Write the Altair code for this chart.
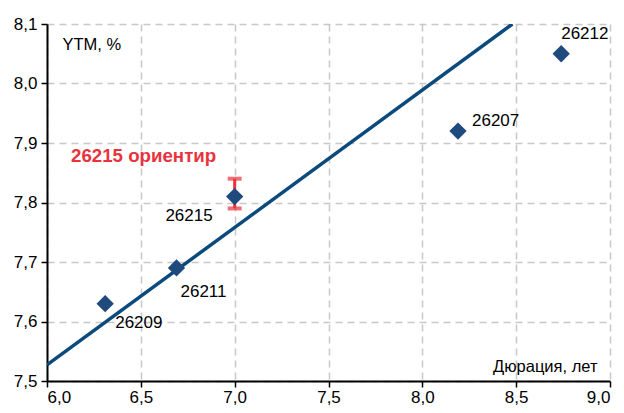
import altair as alt
import pandas as pd

# Data
bonds = ["26209", "26211", "26215", "26207", "26212"]
duration = [6.31, 6.69, 7.00, 8.19, 8.74]
ytm = [7.63, 7.69, 7.81, 7.92, 8.05]

fit_x = [6.0, 8.48]
fit_y = [7.527, 8.10]

guide_bond = "26215"
guide_x = [7.0]
guide_lo = [7.79]
guide_hi = [7.84]

x_ticks = [6.0, 6.5, 7.0, 7.5, 8.0, 8.5, 9.0]
y_ticks = [7.5, 7.6, 7.7, 7.8, 7.9, 8.0, 8.1]

FONT = "Liberation Sans"
BLUE = "#1f4a7e"
LINE = "#0b4a7c"
RED = "#e8333d"

pts = pd.DataFrame({"bond": bonds, "x": duration, "y": ytm})
fit = pd.DataFrame({"x": fit_x, "y": fit_y})
guide = pd.DataFrame({"x": guide_x, "lo": guide_lo, "hi": guide_hi})

lbl_expr = "replace(format(datum.value, '.1f'), '.', ',')"

xs = alt.Scale(domain=[6.0, 9.0], nice=False, zero=False)
ys = alt.Scale(domain=[7.5, 8.1], nice=False, zero=False)

common = dict(
    grid=True, gridDash=[7, 5], gridColor="#c8c8c8", gridWidth=1.5,
    domainColor="black", domainWidth=2, tickColor="black", tickSize=6, tickWidth=1.5,
    labelFont=FONT, labelFontSize=17, labelColor="black",
    titleFontWeight="normal", titleFontSize=16.5, titleFont=FONT, titleColor="black",
    labelExpr=lbl_expr,
)
xaxis = alt.Axis(values=x_ticks, title="Дюрация, лет", labelPadding=2,
                 titleX=550, titleY=-15, titleAlign="right", titleBaseline="middle",
                 **common)
yaxis = alt.Axis(values=y_ticks, title="YTM, %", labelPadding=4,
                 titleAngle=0, titleX=15, titleY=20, titleAlign="left", titleBaseline="middle",
                 **common)


def X(f):
    return alt.X(f, scale=xs, axis=xaxis)


def Y(f):
    return alt.Y(f, scale=ys, axis=yaxis)


base = alt.Chart(pts)

line = alt.Chart(fit).mark_line(color=LINE, strokeWidth=3.5, clip=True).encode(
    x=X("x:Q"), y=Y("y:Q")
)

err = alt.Chart(guide).mark_rule(color=RED, strokeWidth=3).encode(
    x=X("x:Q"), y=Y("lo:Q"), y2="hi:Q"
)
cap_lo = alt.Chart(guide).mark_tick(color=RED, thickness=4, size=14, orient="horizontal").encode(
    x=X("x:Q"), y=Y("lo:Q")
)
cap_hi = alt.Chart(guide).mark_tick(color=RED, thickness=4, size=14, orient="horizontal").encode(
    x=X("x:Q"), y=Y("hi:Q")
)

points = base.mark_point(shape="diamond", filled=True, size=300, color=BLUE, opacity=1).encode(
    x=X("x:Q"), y=Y("y:Q")
)

label_pos = {
    "26209": dict(dx=10, dy=19, align="left"),
    "26211": dict(dx=4, dy=24, align="left"),
    "26215": dict(dx=-22, dy=19, align="right"),
    "26207": dict(dx=14, dy=-10, align="left"),
    "26212": dict(dx=0, dy=-20, align="left"),
}
labels = []
for b, p in label_pos.items():
    labels.append(
        base.transform_filter(alt.datum.bond == b).mark_text(
            font=FONT, fontSize=17, color="black", baseline="middle", **p
        ).encode(x=X("x:Q"), y=Y("y:Q"), text="bond:N")
    )

annot = alt.Chart(pd.DataFrame({"t": [guide_bond + " ориентир"]})).mark_text(
    font=FONT, fontSize=18.7, fontWeight="bold", color=RED, align="left", baseline="middle"
).encode(x=alt.value(24), y=alt.value(132), text="t:N")

chart = alt.layer(line, err, cap_lo, cap_hi, points, *labels, annot).properties(
    width=563, height=357,
    padding={"left": 39, "top": 16, "right": 6, "bottom": 24},
    autosize=alt.AutoSizeParams(type="none"),
    background="white",
).configure_view(stroke=None)

chart.save("out.html", embed_options={"renderer": "svg", "actions": False})
